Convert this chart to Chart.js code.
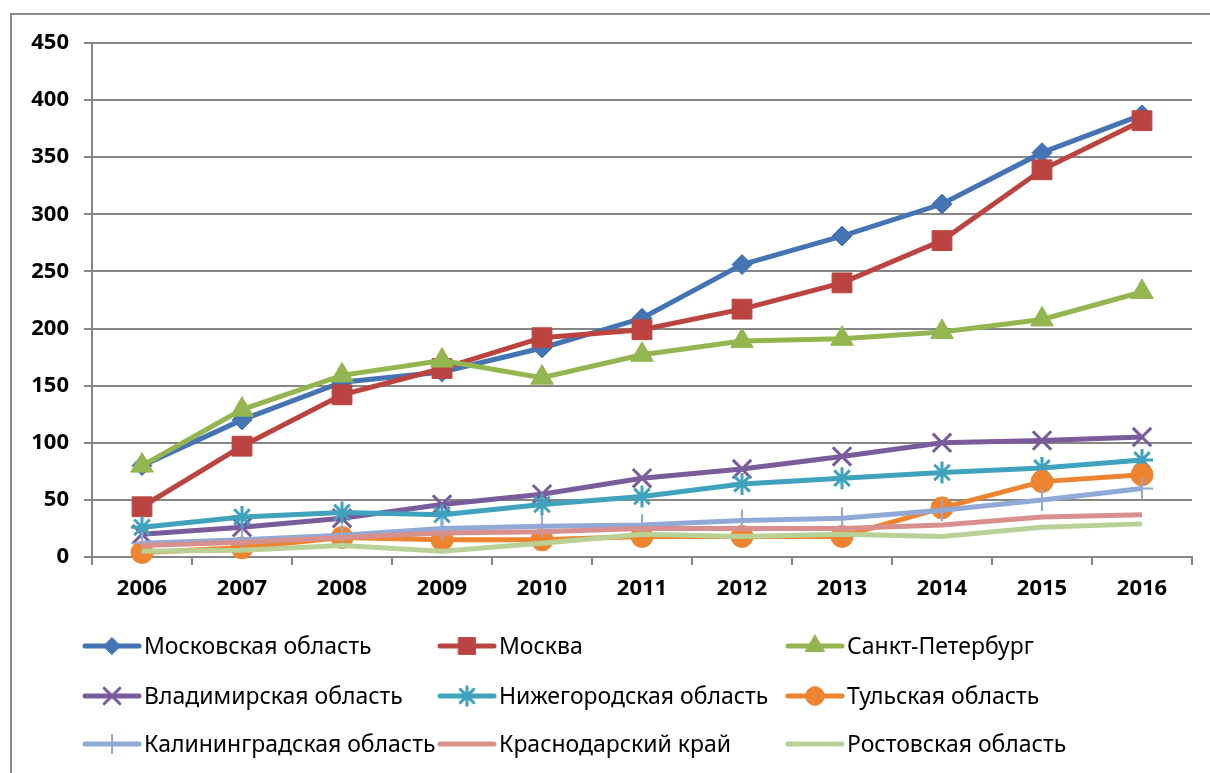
<!DOCTYPE html>
<html>
<head>
<meta charset="utf-8">
<script src="https://cdn.jsdelivr.net/npm/chart.js@4"></script>
<style>
html,body{margin:0;padding:0;background:#fff;}
#wrap{position:relative;width:1210px;height:773px;}
</style>
</head>
<body>
<div id="wrap"><canvas id="c" width="1210" height="773"></canvas></div>
<script>
const years = ['2006','2007','2008','2009','2010','2011','2012','2013','2014','2015','2016'];
const seriesNames = ['Московская область','Москва','Санкт-Петербург','Владимирская область','Нижегородская область','Тульская область','Калининградская область','Краснодарский край','Ростовская область'];
const moscowOblast = [80,120,153,162,183,209,256,281,309,354,387];
const moscow       = [44,97,142,165,192,199,217,240,277,339,382];
const spb          = [80,129,159,172,157,177,189,191,197,208,232];
const vladimir     = [20,26,34,46,55,69,77,88,100,102,105];
const nizhny       = [26,35,39,37,46,53,64,69,74,78,85];
const tula         = [4,8,17,15,15,18,18,18,43,66,72];
const kaliningrad  = [12,15,19,25,27,28,32,34,41,50,60];
const krasnodar    = [10,13,17,21,22,25,25,25,28,35,37];
const rostov       = [5,6,10,5,12,20,18,20,18,26,29];
const yTicks = [0,50,100,150,200,250,300,350,400,450];

const values = [moscowOblast, moscow, spb, vladimir, nizhny, tula, kaliningrad, krasnodar, rostov];
const colors = ['#4474B4','#BB4441','#94B650','#7A5C9C','#3FA3BE','#EF8430','#91A9D6','#D7908E','#B9D197'];
const styles = [
  {pointStyle:'rectRot', r:10, bw:1},
  {pointStyle:'rect', r:14, bw:1},
  {pointStyle:'triangle', r:13, bw:1},
  {pointStyle:'crossRot', r:13, bw:3},
  {pointStyle:'star', r:11, bw:3},
  {pointStyle:'circle', r:11, bw:1},
  {pointStyle:'cross', r:11, bw:2},
  {pointStyle:false, r:0, bw:0},
  {pointStyle:false, r:0, bw:0}
];

const datasets = values.map((v,i)=>({
  label: seriesNames[i],
  data: v,
  borderColor: colors[i],
  backgroundColor: colors[i],
  borderWidth: 5,
  pointStyle: styles[i].pointStyle,
  pointRadius: styles[i].r,
  pointHoverRadius: styles[i].r,
  pointBorderWidth: styles[i].bw,
  pointBorderColor: colors[i],
  pointBackgroundColor: colors[i],
  tension: 0,
  order: -i,
  clip: false
}));

const FONT = "'Noto Sans', 'DejaVu Sans', sans-serif";

const framePlugin = {
  id: 'frame',
  beforeDraw(chart){
    const ctx = chart.ctx;
    ctx.save();
    ctx.fillStyle = '#fff';
    ctx.fillRect(0,0,chart.width,chart.height);
    ctx.strokeStyle = '#8a8a8a';
    ctx.lineWidth = 2;
    ctx.strokeRect(11, 14, 1300, 900);
    ctx.restore();
  }
};

const legendPlugin = {
  id: 'customLegend',
  afterDraw(chart){
    const ctx = chart.ctx;
    const colX = [85, 440, 788];
    const rowY = [646, 696, 744];
    ctx.save();
    chart.data.datasets.forEach((ds,i)=>{
      const x0 = colX[i%3], y = rowY[Math.floor(i/3)];
      ctx.strokeStyle = ds.borderColor;
      ctx.lineWidth = 5;
      ctx.lineCap = 'round';
      ctx.beginPath(); ctx.moveTo(x0, y); ctx.lineTo(x0+54, y); ctx.stroke();
      if (ds.pointStyle) {
        ctx.fillStyle = ds.backgroundColor;
        ctx.strokeStyle = ds.borderColor;
        ctx.lineWidth = ds.pointBorderWidth;
        Chart.helpers.drawPoint(ctx, {pointStyle: ds.pointStyle, radius: ds.pointRadius*0.85, rotation: 0, borderWidth: ds.pointBorderWidth}, x0+27, y);
      }
      ctx.fillStyle = '#000';
      ctx.font = '23px ' + FONT;
      ctx.textBaseline = 'middle';
      ctx.textAlign = 'left';
      ctx.fillText(ds.label, x0+59, y+1);
    });
    ctx.restore();
  }
};

new Chart(document.getElementById('c'), {
  type: 'line',
  data: { labels: years, datasets },
  options: {
    responsive: false,
    animation: false,
    events: [],
    layout: { padding: { left: 0, right: 18, top: 43, bottom: 166 } },
    plugins: { legend: { display: false }, tooltip: { enabled: false } },
    scales: {
      x: {
        offset: true,
        grid: { display: true, drawOnChartArea: false, drawTicks: true, tickLength: 8, color: '#868686', lineWidth: 2, offset: true },
        border: { display: true, color: '#868686', width: 2 },
        ticks: { color: '#000', font: { family: FONT, size: 22, weight: 'bold' }, padding: 11, maxRotation: 0 },
        afterFit(s){ s.height = 50; }
      },
      y: {
        min: 0, max: 450,
        afterBuildTicks(s){ s.ticks = yTicks.map(v=>({value:v})); },
        grid: { color: '#868686', lineWidth: 2, tickLength: 8, drawTicks: true },
        border: { display: true, color: '#868686', width: 2 },
        ticks: { color: '#000', font: { family: FONT, size: 22, weight: 'bold' }, padding: 15 },
        afterFit(s){ s.width = 92; }
      }
    }
  },
  plugins: [framePlugin, legendPlugin]
});
</script>
</body>
</html>
